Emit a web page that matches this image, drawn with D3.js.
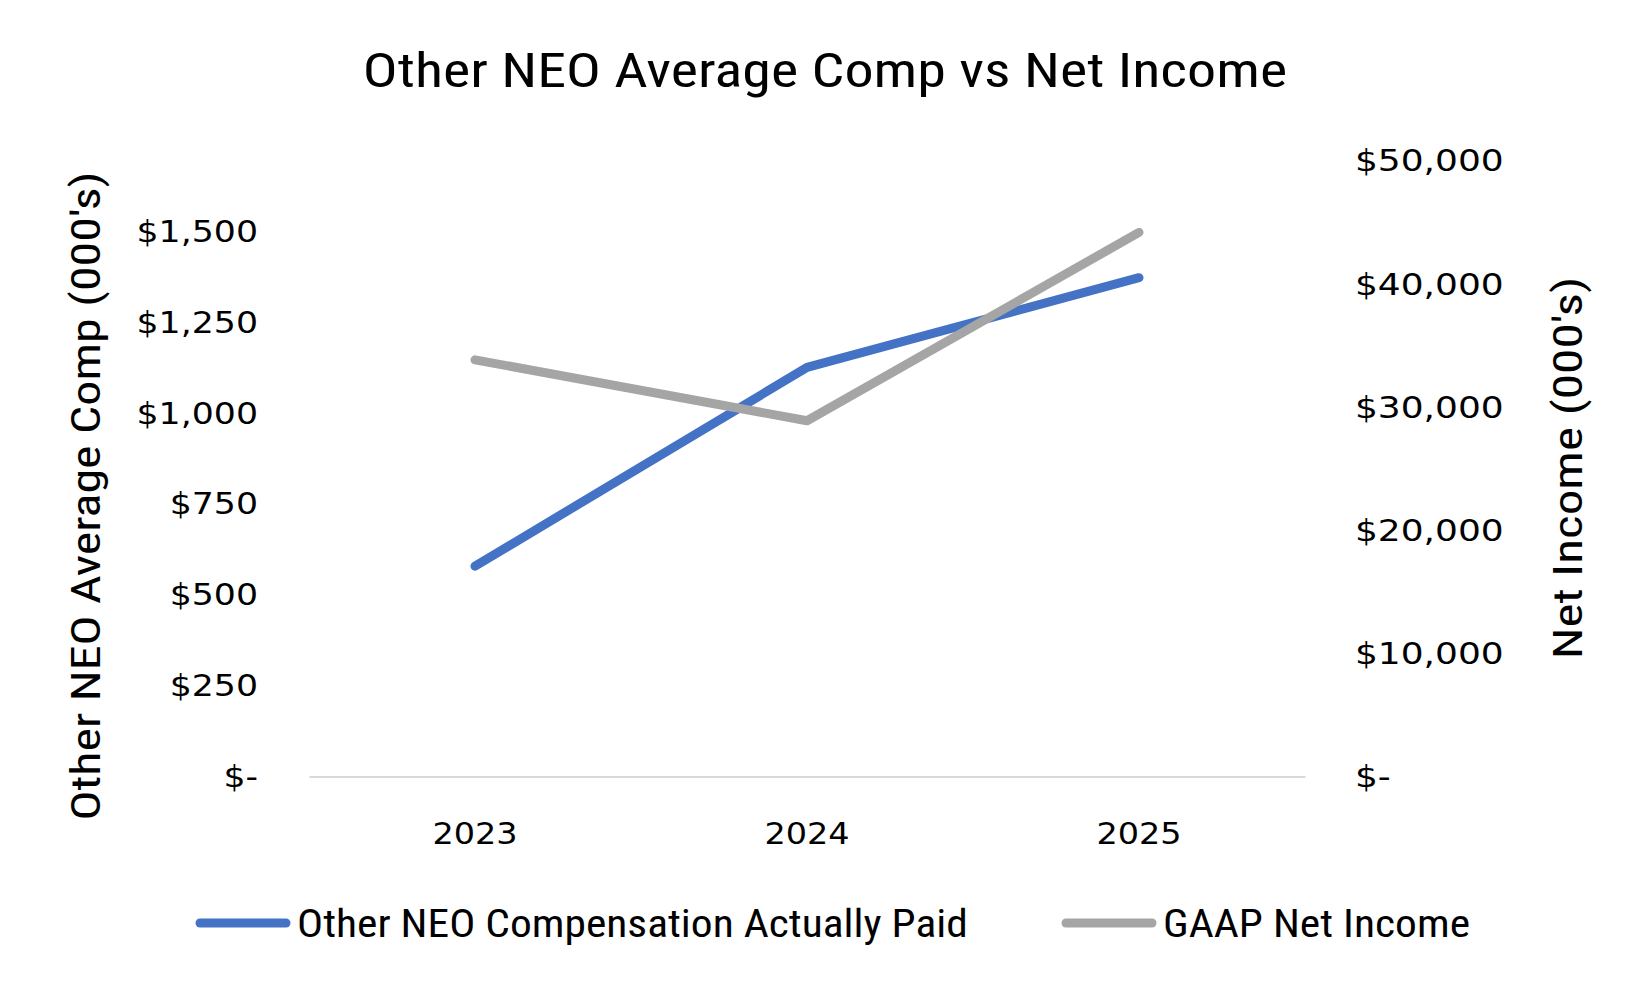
<!DOCTYPE html>
<html>
<head>
<meta charset="utf-8">
<script src="https://cdn.jsdelivr.net/npm/d3@7"></script>
<style>
  html, body { margin: 0; padding: 0; background: #fff; }
  svg { display: block; }
</style>
</head>
<body>
<svg id="chart" width="1650" height="990"></svg>
<script>
const years = ["2023", "2024", "2025"];
const neoComp = [579, 1126, 1373];          // $000's, left axis
const netIncome = [33850, 28900, 44200];    // $000's, right axis
const leftTicks = [0, 250, 500, 750, 1000, 1250, 1500];
const rightTicks = [0, 10000, 20000, 30000, 40000, 50000];
const leftMax = 1694;
const rightMax = 50000;
const seriesNames = ["Other NEO Compensation Actually Paid", "GAAP Net Income"];
const seriesColors = ["#4472C4", "#A5A5A5"];
const titleText = "Other NEO Average Comp vs Net Income";
const leftTitle = "Other NEO Average Comp (000's)";
const rightTitle = "Net Income (000's)";

const svg = d3.select("#chart");
const condensed = "'Liberation Sans Narrow', 'Roboto Condensed', 'DejaVu Sans Condensed', sans-serif";
const tickFont = "'DejaVu Sans', Verdana, sans-serif";

const plot = { left: 309, right: 1305, top: 161, bottom: 776.6 };

const x = d3.scaleBand().domain(years).range([plot.left, plot.right]);
const yL = d3.scaleLinear().domain([0, leftMax]).range([plot.bottom, plot.top]);
const yR = d3.scaleLinear().domain([0, rightMax]).range([plot.bottom, plot.top]);

const money = v => v === 0 ? "$-" : "$" + d3.format(",")(v);

// Title
svg.append("text")
  .attr("transform", "translate(825,87) scale(1.21,1)")
  .attr("text-anchor", "middle")
  .style("font-family", condensed)
  .style("font-size", "48px")
  .style("fill", "#000")
  .text(titleText);

function styleTicks(g, size, sx) {
  g.selectAll("text")
    .style("font-family", tickFont)
    .style("font-size", size + "px")
    .style("fill", "#000")
    .each(function () {
      const t = d3.select(this);
      const tx = +t.attr("x") || 0;
      const ty = +t.attr("y") || 0;
      t.attr("x", 0).attr("y", 0)
        .attr("transform", `translate(${tx},${ty}) scale(${sx},1)`);
    });
}

// Bottom axis
const gx = svg.append("g")
  .attr("transform", `translate(0,${plot.bottom})`)
  .call(d3.axisBottom(x).tickSize(0).tickSizeOuter(0).tickPadding(45));
gx.select(".domain").attr("stroke", "#D9D9D9").attr("stroke-width", 2);
styleTicks(gx, 31, 1.08);

// Left axis
const gl = svg.append("g")
  .attr("transform", `translate(${plot.left},0)`)
  .call(d3.axisLeft(yL).tickValues(leftTicks).tickFormat(money).tickSize(0).tickPadding(51));
gl.select(".domain").remove();
styleTicks(gl, 31, 1.12);

// Right axis
const gr = svg.append("g")
  .attr("transform", `translate(${plot.right},0)`)
  .call(d3.axisRight(yR).tickValues(rightTicks).tickFormat(money).tickSize(0).tickPadding(50));
gr.select(".domain").remove();
styleTicks(gr, 31, 1.16);

// Axis titles
svg.append("text")
  .attr("transform", `translate(100,496) rotate(-90) scale(1.22,1)`)
  .attr("text-anchor", "middle")
  .style("font-family", condensed)
  .style("font-size", "41px")
  .text(leftTitle);
svg.append("text")
  .attr("transform", `translate(1582,468) rotate(-90) scale(1.25,1)`)
  .attr("text-anchor", "middle")
  .style("font-family", condensed)
  .style("font-size", "41px")
  .text(rightTitle);

// Lines
const cx = d => x(d) + x.bandwidth() / 2;
const lineL = d3.line().x((d, i) => cx(years[i])).y(d => yL(d));
const lineR = d3.line().x((d, i) => cx(years[i])).y(d => yR(d));

svg.append("path").datum(neoComp)
  .attr("d", lineL).attr("fill", "none")
  .attr("stroke", seriesColors[0]).attr("stroke-width", 9)
  .attr("stroke-linecap", "round").attr("stroke-linejoin", "round");
svg.append("path").datum(netIncome)
  .attr("d", lineR).attr("fill", "none")
  .attr("stroke", seriesColors[1]).attr("stroke-width", 9)
  .attr("stroke-linecap", "round").attr("stroke-linejoin", "round");

// Legend
const legendY = 923;
const legendItems = [
  { name: seriesNames[0], color: seriesColors[0], x1: 200, x2: 286, tx: 297 },
  { name: seriesNames[1], color: seriesColors[1], x1: 1066, x2: 1152, tx: 1163 }
];
const lg = svg.append("g");
legendItems.forEach(it => {
  lg.append("line").attr("x1", it.x1).attr("x2", it.x2)
    .attr("y1", legendY).attr("y2", legendY)
    .attr("stroke", it.color).attr("stroke-width", 9).attr("stroke-linecap", "round");
  lg.append("text")
    .attr("transform", `translate(${it.tx},${legendY + 14}) scale(1.115,1)`)
    .style("font-family", condensed).style("font-size", "39px")
    .text(it.name);
});
</script>
</body>
</html>
